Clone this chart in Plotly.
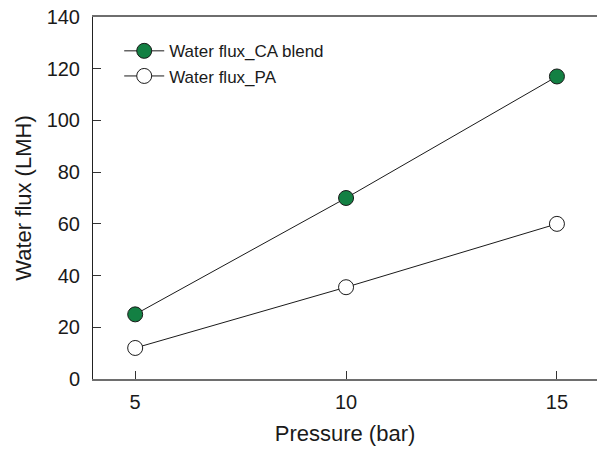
import plotly.graph_objects as go

pressure = [5, 10, 15]
flux_ca_blend = [25, 70, 117]
flux_pa = [12, 35.5, 60]
x_ticks = [5, 10, 15]
y_ticks = [0, 20, 40, 60, 80, 100, 120, 140]

fig = go.Figure()
fig.add_trace(go.Scatter(
    x=pressure, y=flux_ca_blend, mode="lines+markers", name="Water flux_CA blend",
    line=dict(color="#1a1a1a", width=1),
    marker=dict(size=15, color="#138043", line=dict(color="#1a1a1a", width=1)),
))
fig.add_trace(go.Scatter(
    x=pressure, y=flux_pa, mode="lines+markers", name="Water flux_PA",
    line=dict(color="#1a1a1a", width=1),
    marker=dict(size=15, color="white", line=dict(color="#1a1a1a", width=1)),
))

font_family = "Arial, Liberation Sans, sans-serif"
fig.update_layout(
    width=597, height=450,
    margin=dict(l=93, r=0, t=17, b=71),
    paper_bgcolor="white", plot_bgcolor="white",
    font=dict(family=font_family, color="#1a1a1a"),
    showlegend=True,
    legend=dict(x=0.052, y=0.955, xanchor="left", yanchor="top",
                font=dict(size=17, color="#1a1a1a"), bgcolor="rgba(0,0,0,0)",
                tracegroupgap=0, itemwidth=40),
    xaxis=dict(
        range=[4, 15.95], tickvals=x_ticks, ticks="inside", ticklen=8,
        tickcolor="#333", tickwidth=1, showgrid=False, zeroline=False,
        showline=True, linecolor="#6e6e6e", linewidth=2, mirror=True,
        tickfont=dict(size=20), ticklabelstandoff=4,
        title=dict(text="Pressure (bar)", font=dict(size=22), standoff=14),
    ),
    yaxis=dict(
        range=[0, 140], tickvals=y_ticks, ticks="inside", ticklen=8,
        tickcolor="#333", tickwidth=1, showgrid=False, zeroline=False,
        showline=True, linecolor="#222", linewidth=1,
        tickfont=dict(size=20), ticklabelstandoff=8,
        title=dict(text="Water flux (LMH)", font=dict(size=22), standoff=8),
    ),
)
fig.write_html("out.html")
